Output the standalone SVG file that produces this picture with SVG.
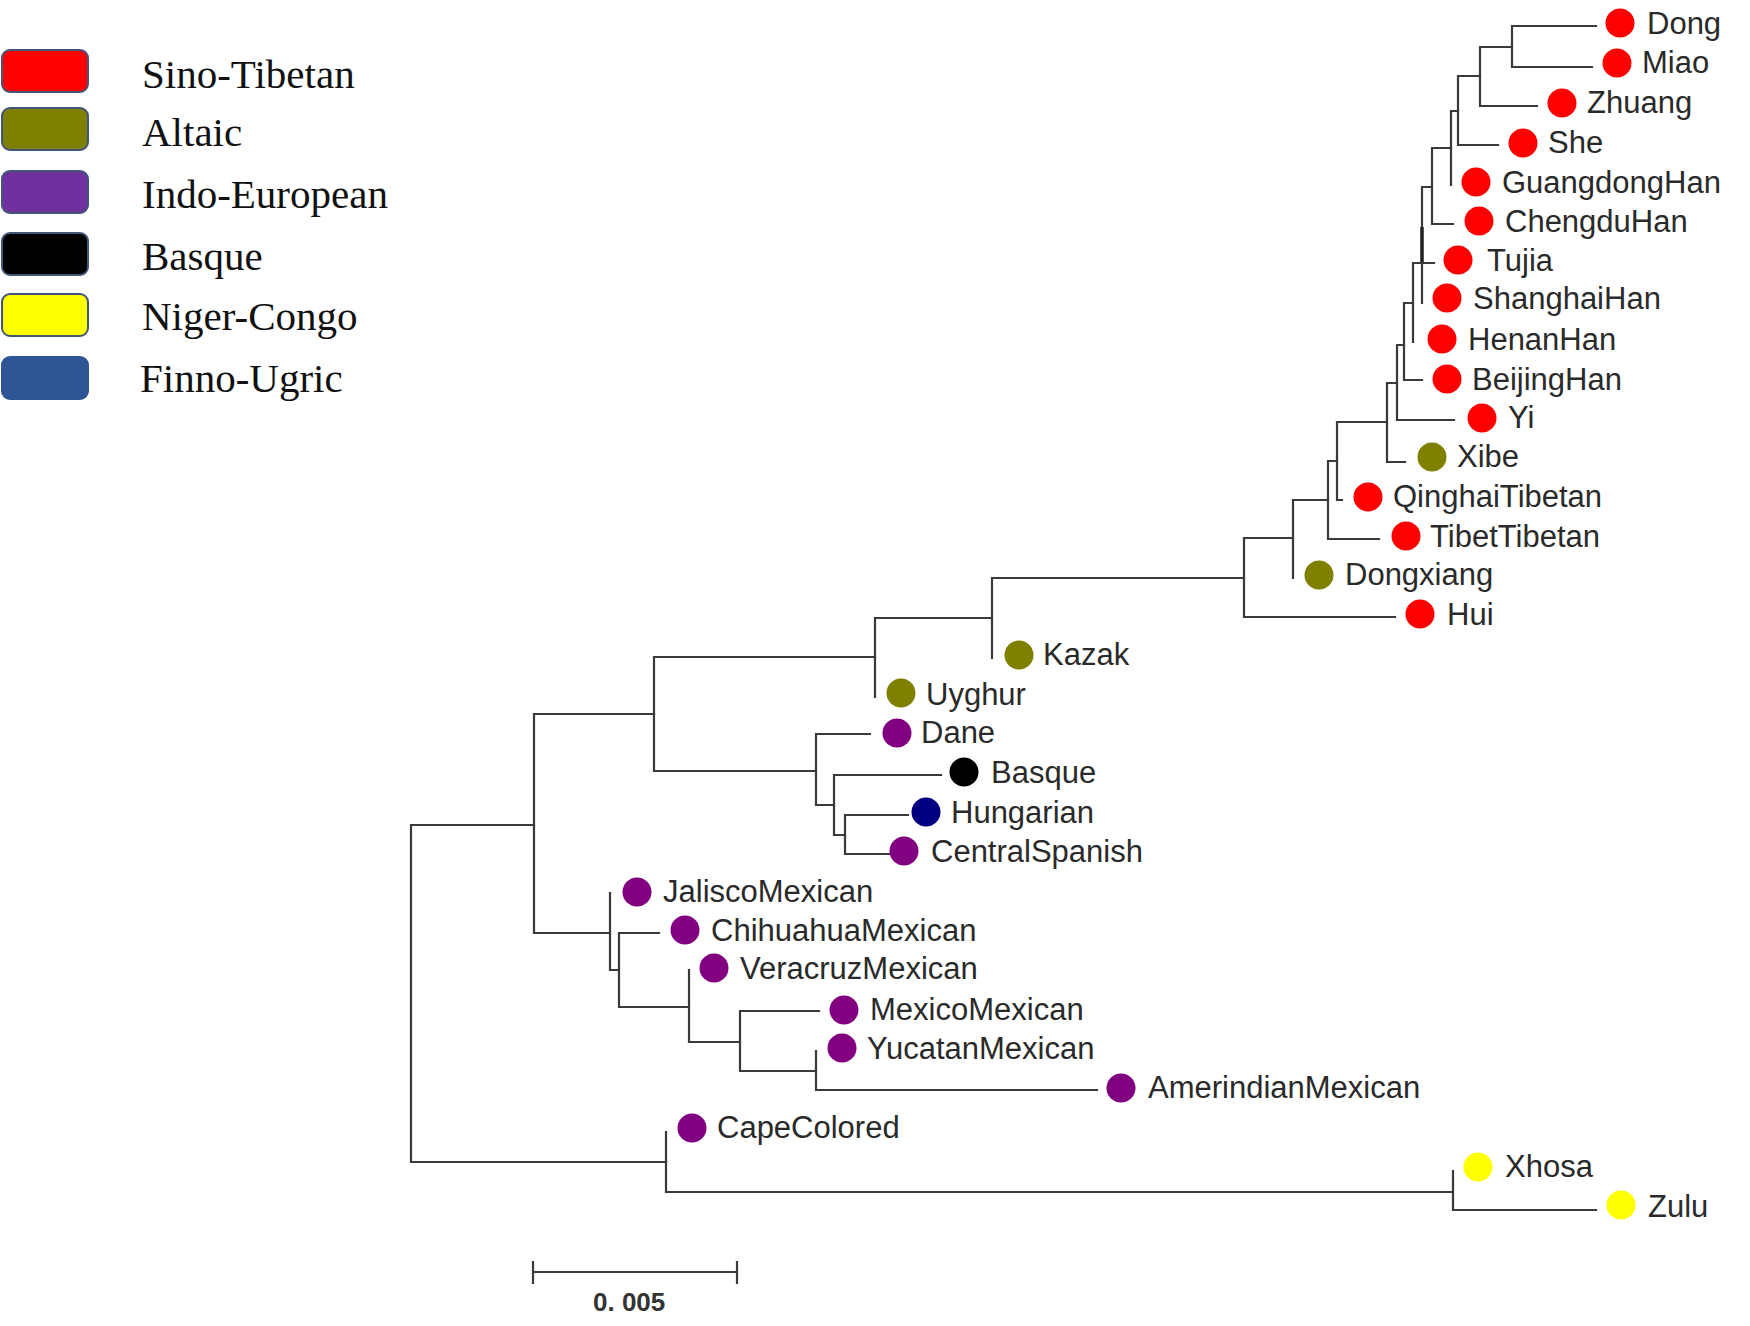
<svg xmlns="http://www.w3.org/2000/svg" width="1750" height="1326" viewBox="0 0 1750 1326">
<defs>
<style>
.lg{stroke:#44557a;stroke-width:2}
.lt{font-family:"Liberation Serif","Times New Roman",serif;font-size:41px;fill:#111}
.br{fill:none;stroke:#3a3a3a;stroke-width:2.2;stroke-linecap:square}
.lb{font-family:"Liberation Sans",Arial,sans-serif;font-size:31px;fill:#2a2a2a}
.st{fill:#ff0000}
.al{fill:#7f7f00}
.ie{fill:#800080}
.bq{fill:#000000}
.fu{fill:#000080}
.nc{fill:#ffff00}
.sc{font-family:"Liberation Sans",Arial,sans-serif;font-size:26px;font-weight:bold;fill:#333}
</style>
</defs>
<rect width="1750" height="1326" fill="#ffffff"/>
<g id="legend">
<g id="legend-sino-tibetan"><rect class="lg" x="2" y="50" width="86" height="42" rx="8" fill="#ff0000"/><text class="lt" x="142" y="88">Sino-Tibetan</text></g>
<g id="legend-altaic"><rect class="lg" x="2" y="108" width="86" height="42" rx="8" fill="#7f7f00"/><text class="lt" x="142" y="146">Altaic</text></g>
<g id="legend-indo-european"><rect class="lg" x="2" y="171" width="86" height="42" rx="8" fill="#7030a0"/><text class="lt" x="142" y="208">Indo-European</text></g>
<g id="legend-basque"><rect class="lg" x="2" y="233" width="86" height="42" rx="8" fill="#000000"/><text class="lt" x="142" y="270">Basque</text></g>
<g id="legend-niger-congo"><rect class="lg" x="2" y="294" width="86" height="42" rx="8" fill="#ffff00"/><text class="lt" x="142" y="330">Niger-Congo</text></g>
<g id="legend-finno-ugric"><rect x="2" y="357" width="86" height="42" rx="8" fill="#2f5597" stroke="#2f5597" stroke-width="2"/><text class="lt" x="140" y="392">Finno-Ugric</text></g>
</g>
<g id="connectors">
<path class="br" d="M1596,26H1512V67H1592"/>
<path class="br" d="M1512,47H1480V106H1537"/>
<path class="br" d="M1480,76H1458V145H1498"/>
<path class="br" d="M1458,111H1451V185"/>
<path class="br" d="M1451,148H1432V224H1453"/>
<path class="br" d="M1432,187H1422V303"/>
<path d="M1422,227V262" stroke="#222" stroke-width="3.5"/>
<path class="br" d="M1434,263H1413V342"/>
<path class="br" d="M1413,303H1404V380H1422"/>
<path class="br" d="M1404,345H1397V420H1454"/>
<path class="br" d="M1397,383H1387V462H1405"/>
<path class="br" d="M1387,422H1337V500H1342"/>
<path class="br" d="M1337,461H1328V539H1379"/>
<path class="br" d="M1328,500H1293V578"/>
<path class="br" d="M1293,538H1244V617H1395"/>
<path class="br" d="M1244,578H992V658"/>
<path class="br" d="M992,618H875V697"/>
<path class="br" d="M875,657H654V771H816"/>
<path class="br" d="M870,734H816V805H834"/>
<path class="br" d="M941,775H834V835H845"/>
<path class="br" d="M908,815H845V854H890"/>
<path class="br" d="M654,714H534V933"/>
<path class="br" d="M534,825H411V1162H666"/>
<path class="br" d="M534,933H610V893"/>
<path class="br" d="M610,933V970H619"/>
<path class="br" d="M659,933H619V1007H689"/>
<path class="br" d="M689,970V1042H740"/>
<path class="br" d="M819,1011H740V1071H816"/>
<path class="br" d="M816,1051V1090H1097"/>
<path class="br" d="M666,1132V1192H1453"/>
<path class="br" d="M1453,1171V1210H1596"/>
<path class="br" d="M533,1272H737M533,1262V1283M737,1262V1283"/>
</g>
<g id="leaves">
<g id="n-dong"><circle class="st" cx="1620" cy="23" r="14.5"/><text class="lb" x="1647" y="34">Dong</text></g>
<g id="n-miao"><circle class="st" cx="1617" cy="63" r="14.5"/><text class="lb" x="1642" y="73">Miao</text></g>
<g id="n-zhuang"><circle class="st" cx="1562" cy="103" r="14.5"/><text class="lb" x="1587" y="113">Zhuang</text></g>
<g id="n-she"><circle class="st" cx="1523" cy="143" r="14.5"/><text class="lb" x="1548" y="153">She</text></g>
<g id="n-guangdonghan"><circle class="st" cx="1476" cy="182" r="14.5"/><text class="lb" x="1502" y="193">GuangdongHan</text></g>
<g id="n-chengduhan"><circle class="st" cx="1479" cy="221" r="14.5"/><text class="lb" x="1505" y="232">ChengduHan</text></g>
<g id="n-tujia"><circle class="st" cx="1458" cy="260" r="14.5"/><text class="lb" x="1487" y="271">Tujia</text></g>
<g id="n-shanghaihan"><circle class="st" cx="1447" cy="298" r="14.5"/><text class="lb" x="1473" y="309">ShanghaiHan</text></g>
<g id="n-henanhan"><circle class="st" cx="1442" cy="339" r="14.5"/><text class="lb" x="1468" y="350">HenanHan</text></g>
<g id="n-beijinghan"><circle class="st" cx="1447" cy="379" r="14.5"/><text class="lb" x="1472" y="390">BeijingHan</text></g>
<g id="n-yi"><circle class="st" cx="1482" cy="418" r="14.5"/><text class="lb" x="1508" y="428">Yi</text></g>
<g id="n-xibe"><circle class="al" cx="1432" cy="457" r="14.5"/><text class="lb" x="1457" y="467">Xibe</text></g>
<g id="n-qinghaitibetan"><circle class="st" cx="1368" cy="497" r="14.5"/><text class="lb" x="1393" y="507">QinghaiTibetan</text></g>
<g id="n-tibettibetan"><circle class="st" cx="1406" cy="536" r="14.5"/><text class="lb" x="1430" y="547">TibetTibetan</text></g>
<g id="n-dongxiang"><circle class="al" cx="1319" cy="575" r="14.5"/><text class="lb" x="1345" y="585">Dongxiang</text></g>
<g id="n-hui"><circle class="st" cx="1420" cy="614" r="14.5"/><text class="lb" x="1447" y="625">Hui</text></g>
<g id="n-kazak"><circle class="al" cx="1019" cy="655" r="14.5"/><text class="lb" x="1043" y="665">Kazak</text></g>
<g id="n-uyghur"><circle class="al" cx="901" cy="693" r="14.5"/><text class="lb" x="926" y="705">Uyghur</text></g>
<g id="n-dane"><circle class="ie" cx="897" cy="733" r="14.5"/><text class="lb" x="921" y="743">Dane</text></g>
<g id="n-basque"><circle class="bq" cx="964" cy="772" r="14.5"/><text class="lb" x="991" y="783">Basque</text></g>
<g id="n-hungarian"><circle class="fu" cx="926" cy="812" r="14.5"/><text class="lb" x="951" y="823">Hungarian</text></g>
<g id="n-centralspanish"><circle class="ie" cx="904" cy="851" r="14.5"/><text class="lb" x="931" y="862">CentralSpanish</text></g>
<g id="n-jaliscomexican"><circle class="ie" cx="637" cy="892" r="14.5"/><text class="lb" x="663" y="902">JaliscoMexican</text></g>
<g id="n-chihuahuamexican"><circle class="ie" cx="685" cy="930" r="14.5"/><text class="lb" x="711" y="941">ChihuahuaMexican</text></g>
<g id="n-veracruzmexican"><circle class="ie" cx="714" cy="968" r="14.5"/><text class="lb" x="740" y="979">VeracruzMexican</text></g>
<g id="n-mexicomexican"><circle class="ie" cx="844" cy="1010" r="14.5"/><text class="lb" x="870" y="1020">MexicoMexican</text></g>
<g id="n-yucatanmexican"><circle class="ie" cx="842" cy="1048" r="14.5"/><text class="lb" x="867" y="1059">YucatanMexican</text></g>
<g id="n-amerindianmexican"><circle class="ie" cx="1121" cy="1088" r="14.5"/><text class="lb" x="1148" y="1098">AmerindianMexican</text></g>
<g id="n-capecolored"><circle class="ie" cx="692" cy="1128" r="14.5"/><text class="lb" x="717" y="1138">CapeColored</text></g>
<g id="n-xhosa"><circle class="nc" cx="1478" cy="1167" r="14.5"/><text class="lb" x="1505" y="1177">Xhosa</text></g>
<g id="n-zulu"><circle class="nc" cx="1621" cy="1205" r="14.5"/><text class="lb" x="1648" y="1217">Zulu</text></g>
</g>
<g id="scale"><text class="sc" x="593" y="1311">0. 005</text></g>
</svg>
